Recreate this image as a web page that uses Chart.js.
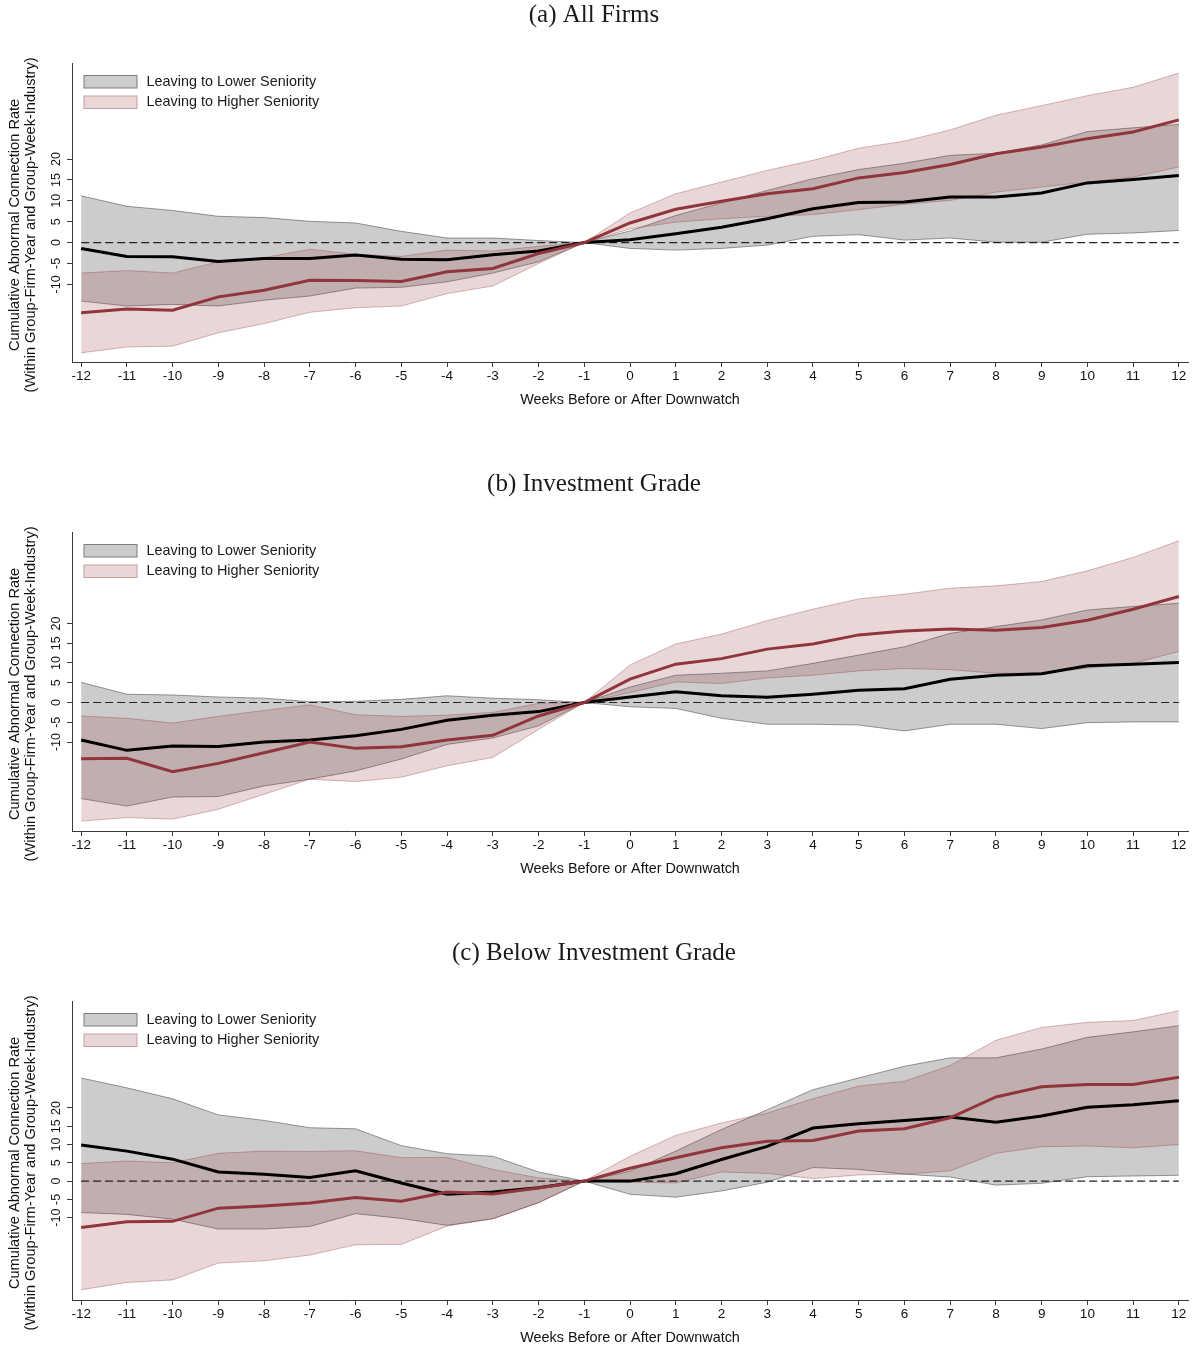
<!DOCTYPE html>
<html>
<head>
<meta charset="utf-8">
<script src="https://cdn.jsdelivr.net/npm/chart.js@4.4.1/dist/chart.umd.min.js"></script>
<style>
html,body{margin:0;padding:0;background:#fff;}
#wrap{position:relative;width:1195px;height:1351px;background:#fff;}
.panel{position:absolute;left:0;width:1195px;height:413px;}
</style>
</head>
<body>
<div id="wrap">
  <div class="panel" style="top:0px"><canvas id="cA" width="1195" height="413"></canvas></div>
  <div class="panel" style="top:469px"><canvas id="cB" width="1195" height="413"></canvas></div>
  <div class="panel" style="top:938px"><canvas id="cC" width="1195" height="413"></canvas></div>
</div>
<script>
// ---------- data ----------
const weeks = [-12,-11,-10,-9,-8,-7,-6,-5,-4,-3,-2,-1,0,1,2,3,4,5,6,7,8,9,10,11,12];
const yTicks = [-10,-5,0,5,10,15,20];
const seriesNames = ['Leaving to Lower Seniority', 'Leaving to Higher Seniority'];
const panelTitles = ['(a) All Firms', '(b) Investment Grade', '(c) Below Investment Grade'];
const xTitle = 'Weeks Before or After Downwatch';
const yTitle = ['Cumulative Abnormal Connection Rate', '(Within Group-Firm-Year and Group-Week-Industry)'];

// (a) All Firms
const aLowerEst = [-1.4,-3.3,-3.4,-4.5,-3.8,-3.8,-3.0,-4.0,-4.1,-2.9,-2.0,0,0.7,2.1,3.7,5.7,8.1,9.6,9.7,10.9,10.9,11.9,14.3,15.1,16.1];
const aLowerHi  = [11.2,8.7,7.7,6.3,6.0,5.1,4.7,2.7,1.1,1.1,0.5,0,2.8,6.5,9.5,12.5,15.3,17.5,19.0,20.9,21.4,23.4,26.6,27.5,28.3];
const aLowerLo  = [-14.0,-15.2,-14.8,-15.2,-13.8,-12.8,-10.9,-10.7,-9.4,-7.3,-4.6,0,-1.4,-1.8,-1.4,-0.6,1.5,1.9,0.6,1.1,0.1,0.1,2.0,2.3,2.9];
const aHigherEst = [-16.8,-15.9,-16.2,-13.0,-11.4,-9.0,-9.1,-9.3,-7.0,-6.2,-2.6,0,4.7,8.0,9.9,11.7,12.9,15.5,16.8,18.7,21.3,22.9,24.9,26.5,29.4];
const aHigherHi  = [-7.3,-6.7,-7.3,-4.6,-3.6,-1.6,-2.8,-3.3,-1.8,-2.0,-0.9,0,7.1,11.7,14.5,17.3,19.7,22.6,24.3,27.0,30.5,32.8,35.2,37.2,40.6];
const aHigherLo  = [-26.4,-25.0,-24.8,-21.6,-19.4,-16.7,-15.6,-15.2,-12.2,-10.4,-5.0,0,3.3,4.9,5.7,6.3,6.7,7.9,9.2,10.1,12.1,13.3,14.5,15.7,18.1];

// (b) Investment Grade
const bLowerEst = [-9.5,-12.1,-11.0,-11.1,-10.0,-9.5,-8.4,-6.8,-4.5,-3.2,-2.3,0,1.4,2.7,1.7,1.3,2.1,3.1,3.5,5.9,6.9,7.3,9.3,9.7,10.1];
const bLowerHi  = [5.1,2.1,1.9,1.4,1.1,0.2,0.3,0.8,1.7,1.1,0.7,0,3.9,6.9,7.4,8.0,9.9,12.0,14.1,17.5,19.2,20.9,23.4,24.3,25.1];
const bLowerLo  = [-24.3,-26.2,-23.9,-23.8,-21.1,-19.4,-17.3,-14.3,-10.6,-9.0,-5.9,0,-1.1,-1.5,-4.0,-5.5,-5.5,-5.7,-7.2,-5.5,-5.5,-6.6,-5.1,-4.9,-4.9];
const bHigherEst = [-14.2,-14.1,-17.5,-15.4,-12.7,-10.0,-11.6,-11.2,-9.5,-8.3,-3.4,0,5.9,9.7,11.1,13.5,14.8,17.1,18.1,18.6,18.3,19.0,20.8,23.6,26.8];
const bHigherHi  = [-3.4,-4.0,-5.2,-3.5,-2.0,-0.6,-3.1,-3.5,-3.2,-2.5,-0.2,0,9.5,14.8,17.3,20.7,23.6,26.2,27.4,28.9,29.5,30.6,33.3,36.7,40.9];
const bHigherLo  = [-30.0,-29.1,-29.5,-27.0,-23.2,-19.4,-20.0,-18.9,-16.0,-13.9,-6.8,0,2.5,5.2,4.8,6.2,6.9,8.0,8.6,8.3,7.4,7.4,8.7,9.9,12.9];

// (c) Below Investment Grade
const cLowerEst = [9.9,8.2,6.0,2.5,1.9,1.0,2.8,-0.5,-3.6,-3.0,-1.8,0,0,2.0,5.9,9.5,14.5,15.7,16.6,17.5,16.1,17.8,20.2,20.9,22.0];
const cLowerHi  = [28.2,25.5,22.5,18.1,16.6,14.6,14.3,9.7,7.5,6.8,2.5,0,2.7,8.2,14.1,19.5,25.0,28.2,31.4,33.7,33.7,36.1,39.3,40.8,42.5];
const cLowerLo  = [-8.6,-9.1,-10.4,-13.1,-13.1,-12.4,-8.9,-10.2,-12.1,-10.3,-5.9,0,-3.6,-4.4,-2.7,-0.3,3.7,3.2,1.9,1.1,-1.1,-0.6,1.2,1.4,1.6];
const cHigherEst = [-12.7,-11.1,-11.0,-7.4,-6.8,-6.0,-4.5,-5.5,-3.0,-3.5,-1.9,0,3.5,6.4,9.1,10.9,11.1,13.7,14.3,17.3,23.0,25.8,26.4,26.4,28.4];
const cHigherHi  = [4.8,5.5,5.0,7.6,8.2,8.1,8.3,6.4,6.5,3.2,0.9,0,6.8,12.5,15.9,18.6,22.5,26.0,27.3,31.6,38.5,42.0,43.4,43.9,46.6];
const cHigherLo  = [-29.7,-27.7,-27.0,-22.4,-21.8,-20.2,-17.4,-17.3,-12.3,-10.3,-5.9,0,-0.3,-0.5,2.5,2.1,0.7,1.7,1.9,2.8,7.6,9.4,9.6,9.1,10.0];

const zeroLine = weeks.map(() => 0);

// y-axis ranges (plot region extent)
const yRangeA = [-28.6, 42.9];
const yRangeB = [-32.5, 43.0];
const yRangeC = [-32.5, 49.1];

// ---------- styles ----------
const FONT = 'Liberation Sans, Arial, sans-serif';
const GRAY_FILL = 'rgba(0,0,0,0.2)';
const GRAY_EDGE = 'rgba(0,0,0,0.38)';
const RED = 'rgb(144,53,59)';
const RED_FILL = 'rgba(144,53,59,0.2)';
const RED_EDGE = 'rgba(144,53,59,0.35)';
const AXIS = '#3a3a3a';

Chart.defaults.font.family = FONT;

const bandLegend = {
  id: 'bandLegend',
  afterDraw(chart) {
    const {ctx, chartArea} = chart;
    const items = [
      {text: seriesNames[0], fill: GRAY_FILL, edge: GRAY_EDGE},
      {text: seriesNames[1], fill: RED_FILL, edge: RED_EDGE}
    ];
    ctx.save();
    const x = chartArea.left + 11.5;
    items.forEach((it, i) => {
      const y = chartArea.top + 11.5 + i * 20.5;
      ctx.fillStyle = '#fff';
      ctx.fillRect(x, y, 54, 13.5);
      ctx.fillStyle = it.fill;
      ctx.fillRect(x, y, 54, 13.5);
      ctx.strokeStyle = it.edge;
      ctx.lineWidth = 1;
      ctx.strokeRect(x + 0.5, y + 0.5, 53, 12.5);
      ctx.fillStyle = '#1a1a1a';
      ctx.font = '14.4px ' + FONT;
      ctx.textBaseline = 'middle';
      ctx.textAlign = 'left';
      ctx.fillText(it.text, x + 63, y + 7);
    });
    ctx.restore();
  }
};

function pts(arr) { return weeks.map((w, i) => ({x: w, y: arr[i]})); }

function makeChart(id, title, yRange, lowerEst, lowerHi, lowerLo, higherEst, higherHi, higherLo) {
  const sp = '      ';
  return new Chart(document.getElementById(id), {
    type: 'line',
    data: {
      datasets: [
        {label: seriesNames[0] + ' (upper)', data: pts(lowerHi), borderColor: GRAY_EDGE, borderWidth: 1, backgroundColor: GRAY_FILL, fill: '+1', pointRadius: 0, tension: 0, order: 4},
        {label: seriesNames[0] + ' (lower)', data: pts(lowerLo), borderColor: GRAY_EDGE, borderWidth: 1, fill: false, pointRadius: 0, tension: 0, order: 4},
        {label: seriesNames[1] + ' (upper)', data: pts(higherHi), borderColor: RED_EDGE, borderWidth: 1, backgroundColor: RED_FILL, fill: '+1', pointRadius: 0, tension: 0, order: 3},
        {label: seriesNames[1] + ' (lower)', data: pts(higherLo), borderColor: RED_EDGE, borderWidth: 1, fill: false, pointRadius: 0, tension: 0, order: 3},
        {label: 'zero', data: pts(zeroLine), borderColor: '#222', borderWidth: 1.2, borderDash: [8, 4], fill: false, pointRadius: 0, order: 2},
        {label: seriesNames[0], data: pts(lowerEst), borderColor: '#000', borderWidth: 3, fill: false, pointRadius: 0, tension: 0, order: 1},
        {label: seriesNames[1], data: pts(higherEst), borderColor: RED, borderWidth: 3, fill: false, pointRadius: 0, tension: 0, order: 0}
      ]
    },
    options: {
      responsive: false,
      animation: false,
      devicePixelRatio: 1,
      layout: {padding: {left: 0, right: 7, top: 0, bottom: 0}},
      plugins: {
        legend: {display: false},
        tooltip: {enabled: false},
        title: {
          display: true, text: title,
          font: {family: 'Liberation Serif, Times New Roman, serif', size: 25, weight: 'normal', lineHeight: 1.1},
          color: '#1a1a1a',
          padding: {top: 1.25, bottom: 34.75}
        }
      },
      scales: {
        x: {
          type: 'linear', min: -12.2, max: 12.2,
          afterBuildTicks: s => { s.ticks = weeks.map(v => ({value: v})); },
          afterFit: s => { s.height = 51; },
          grid: {display: true, drawOnChartArea: false, drawTicks: true, tickLength: 5, color: AXIS, lineWidth: 1},
          border: {display: true, color: AXIS, width: 1},
          ticks: {padding: 1.5, autoSkip: false, maxRotation: 0, color: '#111', font: {size: 13.5}, callback: v => String(v)},
          title: {display: true, text: xTitle, color: '#111', font: {size: 14.4}, padding: {top: 4, bottom: 4.4}}
        },
        y: {
          type: 'linear', min: yRange[0], max: yRange[1],
          afterBuildTicks: s => { s.ticks = yTicks.map(v => ({value: v})); },
          afterFit: s => { s.width = 72; },
          grid: {display: true, drawOnChartArea: false, drawTicks: true, tickLength: 5, color: AXIS, lineWidth: 1},
          border: {display: true, color: AXIS, width: 1},
          ticks: {minRotation: 90, maxRotation: 90, crossAlign: 'center', padding: 1.5, autoSkip: false, color: '#111', font: {size: 12.5}, callback: v => String(v)},
          title: {display: true, text: [yTitle[0] + sp, yTitle[1] + sp], color: '#111', font: {size: 14.6, lineHeight: 16.2/14.6}, padding: {top: 6.5, bottom: 0}}
        }
      }
    },
    plugins: [bandLegend]
  });
}

makeChart('cA', panelTitles[0], yRangeA, aLowerEst, aLowerHi, aLowerLo, aHigherEst, aHigherHi, aHigherLo);
makeChart('cB', panelTitles[1], yRangeB, bLowerEst, bLowerHi, bLowerLo, bHigherEst, bHigherHi, bHigherLo);
makeChart('cC', panelTitles[2], yRangeC, cLowerEst, cLowerHi, cLowerLo, cHigherEst, cHigherHi, cHigherLo);
</script>
</body>
</html>
